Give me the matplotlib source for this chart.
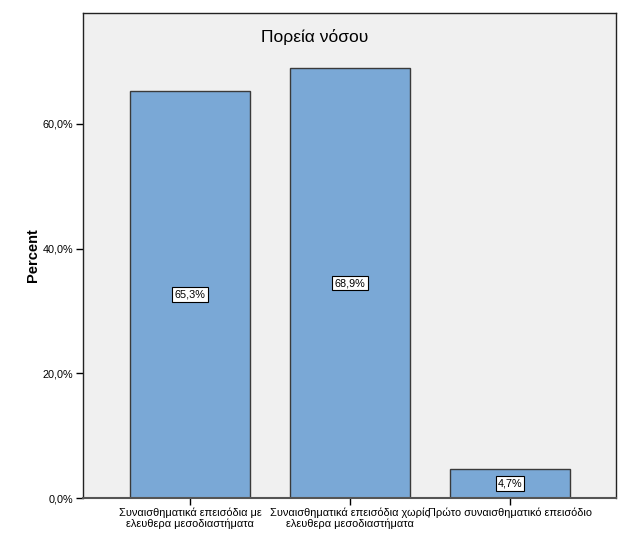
import matplotlib

matplotlib.use("Agg")
import matplotlib.pyplot as plt

categories = [
    "Συναισθηματικά επεισόδια με\nελευθερα μεσοδιαστήματα",
    "Συναισθηματικά επεισόδια χωρίς\nελευθερα μεσοδιαστήματα",
    "Πρώτο συναισθηματικό επεισόδιο",
]
percent = [65.3, 68.9, 4.7]
yticks = [0, 20, 40, 60]

BAR = "#7aa8d6"
EDGE = "#3a3a3a"
BG = "#f0f0f0"

plt.rcParams["font.family"] = ["Liberation Sans", "DejaVu Sans"]

DPI = 100
fig = plt.figure(figsize=(6.29, 5.44), dpi=DPI)
W, H = 629, 544
ax = fig.add_axes([83 / W, 1 - 498 / H, (616 - 83) / W, (498 - 13) / H])
ax.set_facecolor(BG)

x = list(range(len(categories)))
ax.bar(x, percent, width=0.75, color=BAR, edgecolor=EDGE, linewidth=1.0, zorder=2)

for xi, v in zip(x, percent):
    ax.text(xi, v / 2, f"{v:.1f}%".replace(".", ","), ha="center", va="center",
            fontsize=7.8, zorder=3,
            bbox=dict(boxstyle="square,pad=0.2", facecolor="white",
                      edgecolor="black", linewidth=0.8))

ax.set_xlim(-0.669, 2.6625)
ax.set_ylim(0, 77.8)
ax.set_yticks(yticks)
ax.set_yticklabels([f"{t:.1f}%".replace(".", ",") for t in yticks], fontsize=7.8)
ax.set_xticks(x)
ax.set_xticklabels(categories, fontsize=7.9, linespacing=1.0)
ax.tick_params(axis="both", direction="out", length=5, width=1.0, colors="black",
               pad=2)

for s in ("top", "left", "right"):
    ax.spines[s].set_color("#222222")
    ax.spines[s].set_linewidth(1.0)
ax.spines["bottom"].set_color("#555555")
ax.spines["bottom"].set_linewidth(1.5)

ax.set_ylabel("Percent", fontsize=10.5, fontweight="bold", labelpad=2)
fig.text(315 / W, 1 - 37 / H, "Πορεία νόσου", ha="center", va="center",
         fontsize=12.5)

fig.savefig("out.png", dpi=DPI, facecolor="white")
